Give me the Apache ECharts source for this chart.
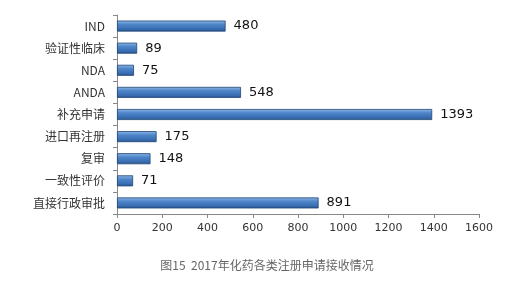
<!DOCTYPE html>
<html><head><meta charset="utf-8">
<script src="https://cdn.jsdelivr.net/npm/echarts@6/dist/echarts.min.js"></script>
<style>html,body{margin:0;padding:0;background:#fff}#c{width:520px;height:289px}</style>
</head><body><div id="c"></div>
<script>
var categories = ["IND","验证性临床","NDA","ANDA","补充申请","进口再注册","复审","一致性评价","直接行政审批"];
var values = [480,89,75,548,1393,175,148,71,891];
var xTicks = [0,200,400,600,800,1000,1200,1400,1600];
var caption = "图15  2017年化药各类注册申请接收情况";

var chart = echarts.init(document.getElementById('c'));
chart.setOption({
  backgroundColor:'#fff',
  animation:false,
  title:{text:caption,left:262,top:254,textAlign:'center',
    textStyle:{fontSize:12,fontWeight:'normal',color:'#666',fontFamily:'Noto Sans CJK SC'}},
  grid:{left:117,right:41,top:15,bottom:75},
  xAxis:{type:'value',min:xTicks[0],max:xTicks[xTicks.length-1],interval:200,
    axisLine:{show:true,lineStyle:{color:'#888'}},
    axisTick:{show:true,length:4,lineStyle:{color:'#888'}},
    splitLine:{show:false},
    axisLabel:{color:'#333',fontSize:11,margin:9,fontFamily:'DejaVu Sans',
      formatter:function(v){return String(v);}}},
  yAxis:{type:'category',data:categories,inverse:true,
    axisLine:{show:true,lineStyle:{color:'#888'}},
    axisTick:{show:true,length:4,lineStyle:{color:'#888'}},
    axisLabel:{color:'#333',fontSize:12,margin:12,fontFamily:'Noto Sans CJK SC'}},
  series:[{type:'bar',data:values,barWidth:11,
    itemStyle:{borderColor:'#1f4577',borderWidth:0.8,
      color:new echarts.graphic.LinearGradient(0,0,0,1,[
        {offset:0,color:'#8fb8e6'},{offset:0.35,color:'#4f86c9'},
        {offset:0.75,color:'#3a6fb3'},{offset:1,color:'#27548d'}])},
    label:{show:true,position:'right',distance:8,color:'#111',fontSize:13,fontFamily:'DejaVu Sans'}
  }]
});
</script></body></html>
